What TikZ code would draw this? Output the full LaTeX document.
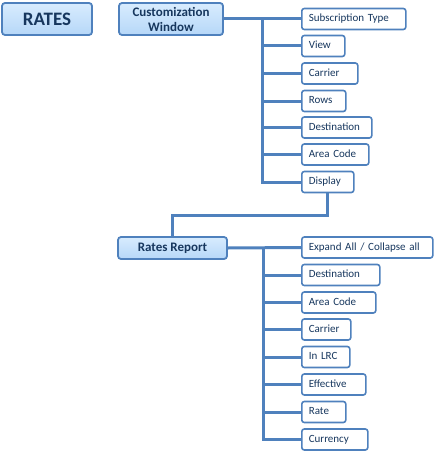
\documentclass[tikz,border=0pt]{standalone}
\usepackage{fontspec}
\setmainfont{Carlito}
\definecolor{boxline}{RGB}{79,129,189}
\definecolor{navy}{RGB}{23,55,94}
\definecolor{topblue}{RGB}{216,236,254}
\definecolor{botblue}{RGB}{182,215,248}
\begin{document}
\begin{tikzpicture}[
                x=1pt, y=-1pt,
                head/.style={draw=boxline, line width=1.8pt, rounded corners=3pt,
                    top color=topblue, bottom color=botblue, text=navy,
                    inner sep=0pt, align=center},
                leaf/.style={draw=boxline, line width=1.6pt, rounded corners=2.5pt,
                    fill=white, text=navy, font=\fontsize{11}{13}\selectfont,
                    anchor=west, minimum height=21pt, inner xsep=7pt, inner ysep=0pt,
                    text height=7.5pt, text depth=2pt, align=left},
                link/.style={draw=boxline, line width=3pt}
            ]
                \useasboundingbox (0,0) rectangle (434,452);
                % top row
                \node [head, minimum width=90pt, minimum height=32pt,
                    font=\fontsize{19}{22}\selectfont\bfseries] (rates) at (47,19) {RATES};
                \node [head, minimum width=104pt, minimum height=32pt,
                    font=\fontsize{13}{15}\selectfont\bfseries] (cw) at (171,19) {Customization\\Window};
                % customization window items
                \node [leaf, text width=90pt] (sub) at (301,19) {Subscription Type};
                \node [leaf, text width=29pt] (view) at (301,46) {View};
                \node [leaf, text width=42pt] (car) at (301,73.5) {Carrier};
                \node [leaf, text width=30pt] (rows) at (301,101) {Rows};
                \node [leaf, text width=56pt] (dest) at (301,127.5) {Destination};
                \node [leaf, text width=53pt] (area) at (301,154.5) {Area Code};
                \node [leaf, text width=38pt] (disp) at (301,182) {Display};
                % rates report
                \node [head, minimum width=109pt, minimum height=22pt,
                    font=\fontsize{13}{15}\selectfont\bfseries] (rr) at (172.5,248) {Rates Report};
                \node [leaf, text width=117pt] (exp) at (301,247.5) {Expand All / Collapse all};
                \node [leaf, text width=64pt] (rdest) at (301,275) {Destination};
                \node [leaf, text width=60pt] (rarea) at (301,302.5) {Area Code};
                \node [leaf, text width=35pt] (rcar) at (301,329.5) {Carrier};
                \node [leaf, text width=34pt] (lrc) at (301,357) {In LRC};
                \node [leaf, text width=50pt] (eff) at (301,384.5) {Effective};
                \node [leaf, text width=30pt] (rate) at (301,412) {Rate};
                \node [leaf, text width=52pt] (cur) at (301,439.5) {Currency};
                % connectors
                \coordinate (trunkA) at (262,0);
                \coordinate (trunkB) at (263,0);
                \coordinate (bend) at (0,215);
                \draw [link] (cw.east) -- (sub.west);
                \foreach \c in {view,car,rows,dest,area,disp}
                    \draw [link] (trunkA |- sub.west) |- (\c.west);
                \draw [link] (disp.south) |- (bend -| rr.north) -- (rr.north);
                \draw [link] (rr.east) -- (exp.west);
                \foreach \c in {rdest,rarea,rcar,lrc,eff,rate,cur}
                    \draw [link] (trunkB |- exp.west) |- (\c.west);
            \end{tikzpicture}
\end{document}
